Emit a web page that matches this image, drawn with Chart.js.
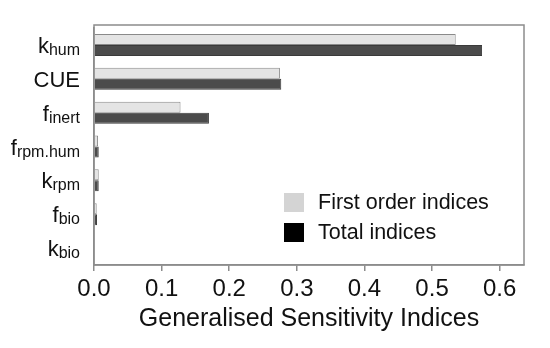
<!DOCTYPE html>
<html>
<head>
<meta charset="utf-8">
<script src="https://cdn.jsdelivr.net/npm/chart.js@4.4.1/dist/chart.umd.min.js"></script>
<style>
  html, body { margin: 0; padding: 0; background: #fff; }
  #wrap { width: 550px; height: 348px; }
</style>
</head>
<body>
<div id="wrap"><canvas id="sens"></canvas></div>
<script>
// parameter names, "base_subscript"
const params = ['k_hum', 'CUE', 'f_inert', 'f_rpm.hum', 'k_rpm', 'f_bio', 'k_bio'];
const firstOrder = [0.535, 0.275, 0.128, 0.006, 0.007, 0.004, 0];
const totalIdx = [0.574, 0.277, 0.170, 0.007, 0.007, 0.0045, 0];
const xTicks = [0.0, 0.1, 0.2, 0.3, 0.4, 0.5, 0.6];
const legendNames = ['First order indices', 'Total indices'];

const frameColor = '#8c8c8c';
const font = 'Arial, "Liberation Sans", sans-serif';

// draws frame, subscripted y labels and the in-plot legend
const extras = {
    id: 'extras',
    afterDraw(chart) {
        const { ctx, chartArea: a, scales } = chart;
        ctx.save();
        ctx.strokeStyle = frameColor;
        ctx.lineWidth = 1.5;
        // frame sits a little above the first category slot
        ctx.strokeRect(a.left, a.top - 3, a.right - a.left, a.bottom - a.top + 3);

        ctx.fillStyle = '#111';
        ctx.textBaseline = 'alphabetic';
        params.forEach((p, i) => {
            const [base, sub] = p.split('_');
            const y = scales.y.getPixelForValue(i) + 8;
            let x = a.left - 14;
            if (sub) {
                ctx.font = '16px ' + font;
                ctx.textAlign = 'right';
                ctx.fillText(sub, x, y + 2);
                x -= ctx.measureText(sub).width;
            }
            ctx.font = '22px ' + font;
            ctx.textAlign = 'right';
            ctx.fillText(base, x, y);
        });

        const swatches = ['#d4d4d4', '#000000'];
        ctx.textAlign = 'left';
        ctx.font = '21.5px ' + font;
        legendNames.forEach((name, i) => {
            const y = 193 + i * 30;
            ctx.fillStyle = swatches[i];
            ctx.fillRect(284, y, 20, 19);
            ctx.fillStyle = '#111';
            ctx.fillText(name, 318, y + 16);
        });
        ctx.restore();
    },
};

new Chart(document.getElementById('sens'), {
    type: 'bar',
    data: {
        labels: params,
        datasets: [
            {
                label: legendNames[0],
                data: firstOrder,
                backgroundColor: '#e4e4e4',
                borderColor: '#8a8a8a',
                borderWidth: 1,
                categoryPercentage: 0.65,
                barPercentage: 1.0,
            },
            {
                label: legendNames[1],
                data: totalIdx,
                backgroundColor: '#4b4b4b',
                borderColor: '#3a3a3a',
                borderWidth: 1,
                categoryPercentage: 0.65,
                barPercentage: 1.0,
            },
        ],
    },
    options: {
        indexAxis: 'y',
        responsive: true,
        maintainAspectRatio: false,
        animation: false,
        layout: { padding: { top: 28, right: 26, left: 0, bottom: 0 } },
        plugins: {
            legend: { display: false },
            tooltip: { enabled: false },
        },
        scales: {
            x: {
                min: 0,
                max: 0.636,
                afterBuildTicks: (scale) => {
                    scale.ticks = xTicks.map((v) => ({ value: v }));
                },
                afterFit: (scale) => { scale.height = 83; },
                grid: {
                    drawOnChartArea: false,
                    drawTicks: true,
                    tickLength: 6,
                    color: frameColor,
                    lineWidth: 1.5,
                },
                border: { color: frameColor, width: 1.5 },
                ticks: {
                    color: '#111',
                    padding: 4,
                    font: { family: font, size: 24 },
                    callback: (v) => Number(v).toFixed(1),
                    maxRotation: 0,
                    autoSkip: false,
                },
                title: {
                    display: true,
                    text: 'Generalised Sensitivity Indices',
                    color: '#111',
                    font: { family: font, size: 25 },
                    padding: { top: 0, bottom: 14 },
                },
            },
            y: {
                offset: true,
                afterFit: (scale) => { scale.width = 94; },
                grid: { display: false },
                border: { color: frameColor, width: 1.5 },
                ticks: { display: false },
            },
        },
    },
    plugins: [extras],
});
</script>
</body>
</html>
